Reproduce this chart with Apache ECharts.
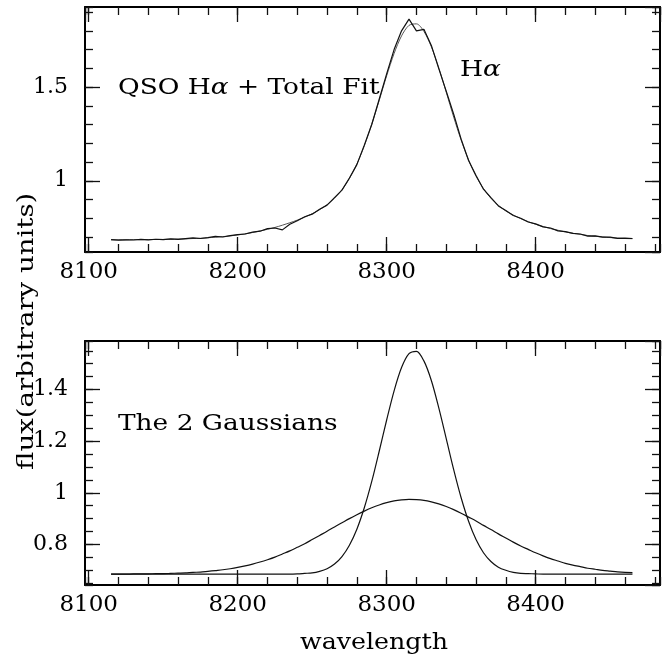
<!DOCTYPE html>
<html>
<head>
<meta charset="utf-8">
<script src="https://cdn.jsdelivr.net/npm/echarts@6/dist/echarts.min.js"></script>
<style>
  html, body { margin: 0; padding: 0; background: #fff; }
  #main { width: 670px; height: 659px; }
</style>
</head>
<body>
<div id="main"></div>
<script>
// wavelength grid (Angstrom)
var wave = [
    8115, 8120, 8125, 8130, 8135, 8140, 8145, 8150, 8155, 8160,
    8165, 8170, 8175, 8180, 8185, 8190, 8195, 8200, 8205, 8210,
    8215, 8220, 8225, 8230, 8235, 8240, 8245, 8250, 8255, 8260,
    8265, 8270, 8275, 8280, 8285, 8290, 8295, 8300, 8305, 8310,
    8315, 8320, 8325, 8330, 8335, 8340, 8345, 8350, 8355, 8360,
    8365, 8370, 8375, 8380, 8385, 8390, 8395, 8400, 8405, 8410,
    8415, 8420, 8425, 8430, 8435, 8440, 8445, 8450, 8455, 8460,
    8465
];

// top panel: observed QSO H-alpha
var fluxObs = [
    0.686, 0.683, 0.685, 0.684, 0.687, 0.685, 0.688, 0.686, 0.690, 0.687,
    0.691, 0.695, 0.692, 0.697, 0.703, 0.700, 0.707, 0.713, 0.716, 0.726,
    0.731, 0.745, 0.748, 0.738, 0.768, 0.787, 0.808, 0.822, 0.848, 0.870,
    0.910, 0.950, 1.015, 1.086, 1.190, 1.300, 1.435, 1.570, 1.700, 1.800,
    1.862, 1.800, 1.808, 1.722, 1.598, 1.478, 1.355, 1.222, 1.108, 1.028,
    0.955, 0.910, 0.866, 0.841, 0.815, 0.800, 0.780, 0.770, 0.754, 0.748,
    0.733, 0.729, 0.719, 0.716, 0.705, 0.706, 0.699, 0.699, 0.693, 0.694,
    0.692
];

// top panel: total fit
var fluxFit = [
    0.685, 0.685, 0.685, 0.686, 0.686, 0.686, 0.687, 0.687, 0.688, 0.689,
    0.690, 0.692, 0.693, 0.696, 0.699, 0.702, 0.706, 0.711, 0.717, 0.724,
    0.732, 0.741, 0.751, 0.763, 0.776, 0.790, 0.806, 0.824, 0.846, 0.872,
    0.907, 0.952, 1.012, 1.089, 1.186, 1.302, 1.429, 1.560, 1.679, 1.773,
    1.829, 1.837, 1.797, 1.715, 1.602, 1.472, 1.340, 1.217, 1.111, 1.025,
    0.958, 0.907, 0.869, 0.839, 0.817, 0.798, 0.782, 0.768, 0.756, 0.745,
    0.736, 0.727, 0.720, 0.714, 0.708, 0.704, 0.700, 0.697, 0.694, 0.692,
    0.691
];

// bottom panel: narrow gaussian
var gaussNarrow = [
    0.685, 0.685, 0.685, 0.685, 0.685, 0.685, 0.685, 0.685, 0.685, 0.685,
    0.685, 0.685, 0.685, 0.685, 0.685, 0.685, 0.685, 0.685, 0.685, 0.685,
    0.685, 0.685, 0.685, 0.685, 0.685, 0.686, 0.688, 0.690, 0.696, 0.706,
    0.724, 0.753, 0.797, 0.859, 0.942, 1.044, 1.161, 1.282, 1.395, 1.485,
    1.539, 1.548, 1.511, 1.435, 1.329, 1.210, 1.090, 0.981, 0.890, 0.819,
    0.768, 0.734, 0.712, 0.700, 0.692, 0.688, 0.687, 0.686, 0.685, 0.685,
    0.685, 0.685, 0.685, 0.685, 0.685, 0.685, 0.685, 0.685, 0.685, 0.685,
    0.685
];

// bottom panel: broad gaussian
var gaussBroad = [
    0.685, 0.685, 0.685, 0.686, 0.686, 0.686, 0.687, 0.687, 0.688, 0.689,
    0.690, 0.692, 0.693, 0.696, 0.699, 0.702, 0.706, 0.711, 0.717, 0.724,
    0.732, 0.741, 0.751, 0.763, 0.775, 0.789, 0.803, 0.819, 0.835, 0.851,
    0.868, 0.884, 0.900, 0.915, 0.929, 0.942, 0.953, 0.962, 0.969, 0.973,
    0.975, 0.974, 0.971, 0.965, 0.957, 0.947, 0.935, 0.921, 0.906, 0.891,
    0.874, 0.858, 0.841, 0.825, 0.809, 0.794, 0.781, 0.768, 0.756, 0.745,
    0.736, 0.727, 0.720, 0.714, 0.708, 0.704, 0.700, 0.697, 0.694, 0.692,
    0.691
];

var X_MIN = 8097.5, X_MAX = 8483.5;
var FONT = 'DejaVu Serif';

var pairs = function (ys) {
    return wave.map(function (w, i) { return [w, ys[i]]; });
};

// one axis per side; "major" carries the long ticks (and the frame line), the other the short ones
var xAxisDef = function (grid, pos, major, label) {
    return {
        type: 'value', gridIndex: grid, position: pos,
        min: X_MIN, max: X_MAX, splitNumber: major ? 4 : 19,
        axisLine: { show: major, onZero: false, lineStyle: { color: '#000', width: 2 } },
        axisTick: { show: true, inside: true, length: major ? 15 : 8, lineStyle: { color: '#111', width: 1.3 } },
        axisLabel: {
            show: label, margin: 9, color: '#000', fontFamily: FONT, fontSize: 23,
            showMinLabel: false, showMaxLabel: false,
            formatter: function (v) { return String(v); }
        },
        splitLine: { show: false }
    };
};

var yAxisDef = function (grid, pos, min, max, split, major, label) {
    return {
        type: 'value', gridIndex: grid, position: pos,
        min: min, max: max, splitNumber: split,
        axisLine: { show: major, onZero: false, lineStyle: { color: '#000', width: 2 } },
        axisTick: { show: true, inside: true, length: major ? 15 : 8, lineStyle: { color: '#111', width: 1.3 } },
        axisLabel: {
            show: label, margin: 17, color: '#000', fontFamily: FONT, fontSize: 22,
            showMinLabel: false, showMaxLabel: false,
            formatter: function (v) { return String(+v.toFixed(2)); }
        },
        splitLine: { show: false }
    };
};

var lineSeries = function (x, y, data, color, width, smooth) {
    return {
        type: 'line', xAxisIndex: x, yAxisIndex: y, data: data,
        showSymbol: false, symbol: 'none', smooth: smooth,
        lineStyle: { color: color, width: width }
    };
};

// free text, widened a little to match the plotting font of the original
var textEl = function (x, y, text, size, sx, extra) {
    var el = {
        type: 'text', x: x, y: y, scaleX: sx,
        style: {
            text: text, fill: '#000', font: size + 'px "' + FONT + '"',
            textVerticalAlign: 'middle',
            rich: { i: { fontStyle: 'italic', fontFamily: FONT, fontSize: size } }
        }
    };
    for (var k in extra) { el[k] = extra[k]; }
    return el;
};

var myChart = echarts.init(document.getElementById('main'));

var option = {
    animation: false,
    backgroundColor: '#fff',
    grid: [
        { left: 85, right: 10, top: 7, height: 245 },
        { left: 85, right: 10, top: 341, height: 244 }
    ],
    xAxis: [
        xAxisDef(0, 'bottom', true, true),
        xAxisDef(0, 'bottom', false, false),
        xAxisDef(0, 'top', true, false),
        xAxisDef(0, 'top', false, false),
        xAxisDef(1, 'bottom', true, true),
        xAxisDef(1, 'bottom', false, false),
        xAxisDef(1, 'top', true, false),
        xAxisDef(1, 'top', false, false)
    ],
    yAxis: [
        yAxisDef(0, 'left', 0.62, 1.927, 3, true, true),
        yAxisDef(0, 'left', 0.62, 1.927, 13, false, false),
        yAxisDef(0, 'right', 0.62, 1.927, 3, true, false),
        yAxisDef(0, 'right', 0.62, 1.927, 13, false, false),
        yAxisDef(1, 'left', 0.643, 1.588, 5, true, true),
        yAxisDef(1, 'left', 0.643, 1.588, 19, false, false),
        yAxisDef(1, 'right', 0.643, 1.588, 5, true, false),
        yAxisDef(1, 'right', 0.643, 1.588, 19, false, false)
    ],
    series: [
        lineSeries(0, 0, pairs(fluxFit), '#555', 1, 0.3),
        lineSeries(0, 0, pairs(fluxObs), '#111', 1.2, false),
        lineSeries(4, 4, pairs(gaussNarrow), '#111', 1.2, 0.3),
        lineSeries(4, 4, pairs(gaussBroad), '#111', 1.2, 0.3)
    ],
    graphic: [
        textEl(118, 88, 'QSO H{i|α} + Total Fit', 22, 1.2, {}),
        textEl(460, 70, 'H{i|α}', 22, 1.2, {}),
        textEl(118, 424, 'The 2 Gaussians', 22, 1.2, {}),
        textEl(300, 643, 'wavelength', 22, 1.15, {}),
        textEl(27, 470, 'flux(arbitrary units)', 23, 1.2, { rotation: Math.PI / 2 })
    ]
};

myChart.setOption(option);
</script>
</body>
</html>
